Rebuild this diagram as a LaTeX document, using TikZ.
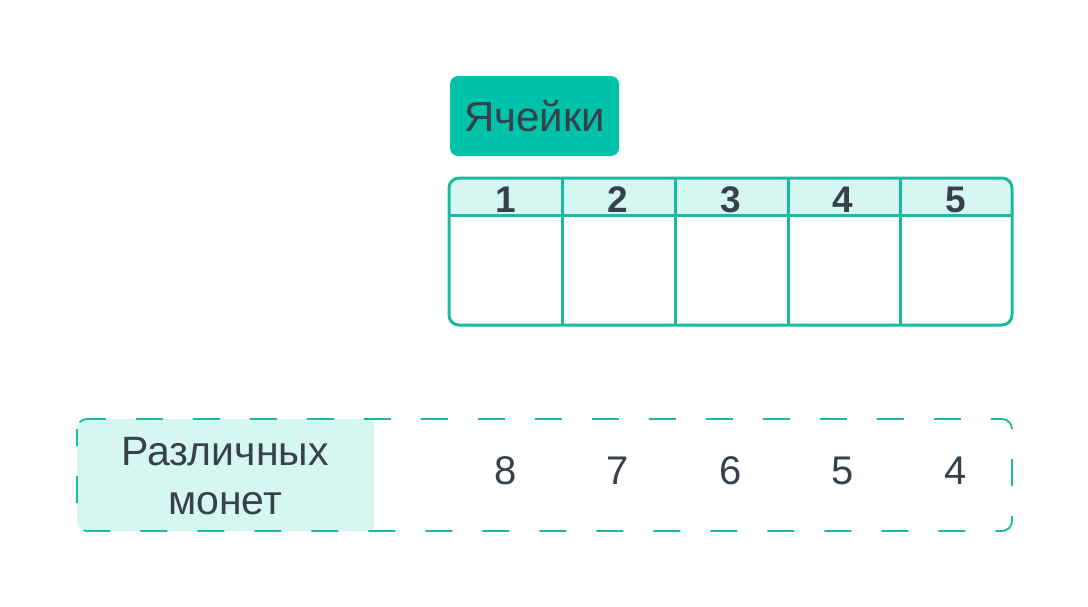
\documentclass[tikz,border=0pt]{standalone}
\usepackage{fontspec}
\setmainfont{Liberation Sans}
\definecolor{tealfill}{HTML}{00C2A8}
\definecolor{tealline}{HTML}{1ABA9E}
\definecolor{mint}{HTML}{D6F7F1}
\definecolor{ink}{HTML}{37414B}
\tikzset{
  hdrnum/.style={text=ink, font=\fontsize{37}{37}\selectfont\bfseries, anchor=base, inner sep=0pt},
  rownum/.style={text=ink, font=\fontsize{40}{40}\selectfont, anchor=base, inner sep=0pt},
  tline/.style={draw=tealline, line width=3pt},
  dline/.style={draw=tealline, line width=1.8pt, dash pattern=on 27pt off 30pt, dash phase=10pt}
}
\begin{document}
\begin{tikzpicture}[x=1pt,y=-1pt]
\useasboundingbox[fill=white] (0,0) rectangle (1088,606);
% title box
\node[fill=tealfill, rounded corners=8pt, minimum width=169pt, minimum height=80pt,
      text=ink, font=\fontsize{42}{42}\selectfont, inner sep=0pt] (title) at (534.5,116) {Ячейки};
% table
\begin{scope}
\clip[rounded corners=10pt] (449,178) rectangle (1012,325);
\fill[mint] (449,178) rectangle (1012,215);
\end{scope}
\draw[tline, rounded corners=10pt] (449,178) rectangle (1012,325);
\coordinate (hl) at (449,215);
\coordinate (hr) at (1012,215);
\draw[tline] (hl) -- (hr);
\foreach \x/\n in {562/a,675/b,788/c,900/d}{
  \coordinate (t\n) at (\x,178);
  \coordinate (b\n) at (\x,325);
  \draw[tline] (t\n) -- (b\n);
}
\foreach \x/\d in {506/1,618/2,731/3,843/4,956/5}{
  \node[hdrnum] (h\d) at (\x,212) {\d};
}
% dashed row
\begin{scope}
\clip[rounded corners=10pt] (77,419) rectangle (1012,531);
\fill[mint, rounded corners=4pt] (60,419) rectangle (374,531);
\fill[mint] (60,419) rectangle (360,531);
\end{scope}
\draw[dline, rounded corners=10pt] (77,419) rectangle (1012,531);
\node[text=ink, font=\fontsize{41}{49}\selectfont, align=center, anchor=base, inner sep=0pt] (lbl) at (225,514) {Различных\\монет};
\foreach \x/\d/\i in {506/8/1,618/7/2,731/6/3,843/5/4,956/4/5}{
  \node[rownum] (r\i) at (\x,484) {\d};
}
\end{tikzpicture}
\end{document}
